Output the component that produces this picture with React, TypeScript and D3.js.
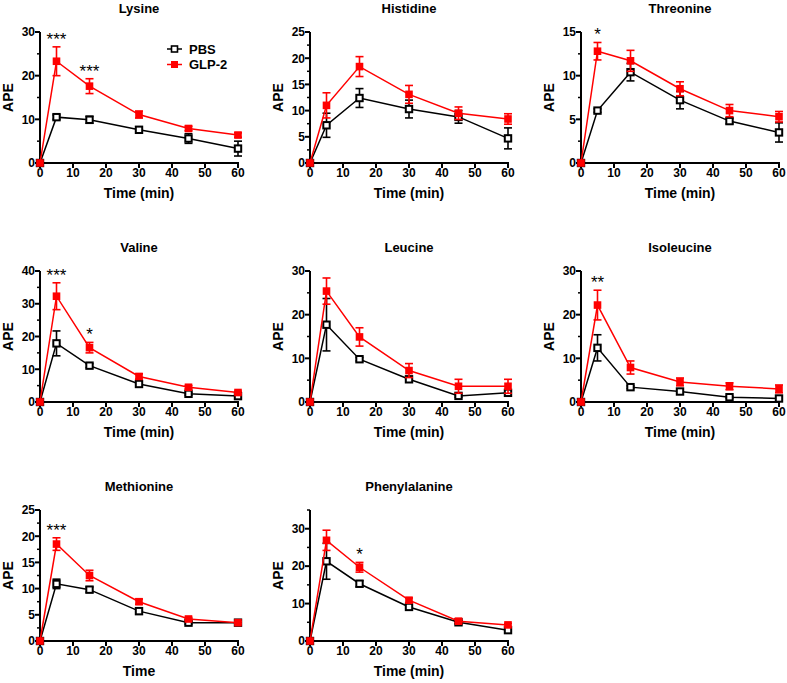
import * as d3 from "d3"

// sampling times (min)
const times = [0, 5, 15, 30, 45, 60]

// mean APE and SEM
const lysinePBS = [0, 10.5, 9.9, 7.6, 5.6, 3.3]
const lysinePBSErr = [0, 0.5, 0.8, 0.7, 1.1, 1.7]
const lysineGLP2 = [0, 23.3, 17.6, 11.1, 7.9, 6.4]
const lysineGLP2Err = [0, 3.3, 1.7, 0.8, 0.5, 0.5]

const histidinePBS = [0, 7.2, 12.4, 10.3, 8.8, 4.7]
const histidinePBSErr = [0, 2.3, 1.8, 1.7, 1.2, 2.0]
const histidineGLP2 = [0, 11.0, 18.4, 13.1, 9.5, 8.4]
const histidineGLP2Err = [0, 2.4, 1.9, 1.7, 1.2, 1.0]

const threoninePBS = [0, 6.0, 10.4, 7.2, 4.8, 3.5]
const threoninePBSErr = [0, 0.2, 1.0, 1.0, 0.3, 1.1]
const threonineGLP2 = [0, 12.8, 11.7, 8.5, 6.0, 5.3]
const threonineGLP2Err = [0, 1.0, 1.2, 0.8, 0.7, 0.6]

const valinePBS = [0, 17.9, 11.1, 5.5, 2.5, 1.8]
const valinePBSErr = [0, 3.8, 0.6, 0.5, 0.4, 0.3]
const valineGLP2 = [0, 32.3, 16.6, 7.8, 4.5, 2.9]
const valineGLP2Err = [0, 4.1, 1.6, 0.8, 0.5, 0.4]

const leucinePBS = [0, 17.7, 9.8, 5.2, 1.4, 2.1]
const leucinePBSErr = [0, 6.0, 0.4, 0.5, 0.3, 0.5]
const leucineGLP2 = [0, 25.4, 14.9, 7.2, 3.6, 3.6]
const leucineGLP2Err = [0, 3.0, 2.1, 1.6, 1.6, 1.6]

const isoleucinePBS = [0, 12.4, 3.4, 2.4, 1.1, 0.8]
const isoleucinePBSErr = [0, 3.0, 0.3, 0.3, 0.2, 0.2]
const isoleucineGLP2 = [0, 22.2, 7.9, 4.6, 3.6, 3.0]
const isoleucineGLP2Err = [0, 3.4, 1.5, 0.9, 0.8, 0.9]

const methioninePBS = [0, 10.9, 9.8, 5.7, 3.5, 3.5]
const methioninePBSErr = [0, 0.9, 0.5, 0.6, 0.3, 0.2]
const methionineGLP2 = [0, 18.5, 12.5, 7.5, 4.2, 3.5]
const methionineGLP2Err = [0, 1.2, 1.0, 0.5, 0.3, 0.2]

const phenylalaninePBS = [0, 21.3, 15.3, 9.1, 5.0, 2.9]
const phenylalaninePBSErr = [0, 4.8, 0.8, 0.6, 0.4, 0.7]
const phenylalanineGLP2 = [0, 26.9, 19.7, 10.9, 5.3, 4.3]
const phenylalanineGLP2Err = [0, 2.7, 1.3, 0.6, 0.4, 0.4]

// significance marks: [time, label]
const lysineStars: [number, string][] = [[5, "***"], [15, "***"]]
const threonineStars: [number, string][] = [[5, "*"]]
const valineStars: [number, string][] = [[5, "***"], [15, "*"]]
const isoleucineStars: [number, string][] = [[5, "**"]]
const methionineStars: [number, string][] = [[5, "***"]]
const phenylalanineStars: [number, string][] = [[15, "*"]]

const seriesNames = ["PBS", "GLP-2"]

const panels = [
  { title: "Lysine", yMax: 30, step: 10, xLabel: "Time (min)", pbs: lysinePBS, pbsErr: lysinePBSErr, glp: lysineGLP2, glpErr: lysineGLP2Err, stars: lysineStars, legend: true },
  { title: "Histidine", yMax: 25, step: 5, xLabel: "Time (min)", pbs: histidinePBS, pbsErr: histidinePBSErr, glp: histidineGLP2, glpErr: histidineGLP2Err, stars: [] },
  { title: "Threonine", yMax: 15, step: 5, xLabel: "Time (min)", pbs: threoninePBS, pbsErr: threoninePBSErr, glp: threonineGLP2, glpErr: threonineGLP2Err, stars: threonineStars },
  { title: "Valine", yMax: 40, step: 10, xLabel: "Time (min)", pbs: valinePBS, pbsErr: valinePBSErr, glp: valineGLP2, glpErr: valineGLP2Err, stars: valineStars },
  { title: "Leucine", yMax: 30, step: 10, xLabel: "Time (min)", pbs: leucinePBS, pbsErr: leucinePBSErr, glp: leucineGLP2, glpErr: leucineGLP2Err, stars: [] },
  { title: "Isoleucine", yMax: 30, step: 10, xLabel: "Time (min)", pbs: isoleucinePBS, pbsErr: isoleucinePBSErr, glp: isoleucineGLP2, glpErr: isoleucineGLP2Err, stars: isoleucineStars },
  { title: "Methionine", yMax: 25, step: 5, xLabel: "Time", pbs: methioninePBS, pbsErr: methioninePBSErr, glp: methionineGLP2, glpErr: methionineGLP2Err, stars: methionineStars },
  { title: "Phenylalanine", yMax: 35, step: 10, xLabel: "Time (min)", pbs: phenylalaninePBS, pbsErr: phenylalaninePBSErr, glp: phenylalanineGLP2, glpErr: phenylalanineGLP2Err, stars: phenylalanineStars },
]

const FONT = "Arial, 'Liberation Sans', Helvetica, sans-serif"
const RED = "#ff0000"
const colLefts = [40, 310, 581]
const rowTops = [32, 271, 510]
const plotW = 198
const plotH = 131

type PanelDef = (typeof panels)[number]

function Panel({ p, left, top }: { p: PanelDef; left: number; top: number }) {
  const x = d3.scaleLinear().domain([0, 60]).range([0, plotW])
  const y = d3.scaleLinear().domain([0, p.yMax]).range([plotH, 0])
  const majors = d3.range(0, p.yMax + 0.001, p.step).filter((v) => v <= p.yMax)
  const minors = d3.range(p.step / 2, p.yMax + 0.001, p.step)
  const line = d3
    .line<number>()
    .x((_, i) => x(times[i]))
    .y((d) => y(d))

  const errBars = (vals: number[], errs: number[], color: string) =>
    vals.map((v, i) =>
      errs[i] > 0 ? (
        <g key={i} stroke={color} strokeWidth={1.6}>
          <line x1={x(times[i])} x2={x(times[i])} y1={y(v - errs[i])} y2={y(v + errs[i])} />
          <line x1={x(times[i]) - 4} x2={x(times[i]) + 4} y1={y(v + errs[i])} y2={y(v + errs[i])} />
          <line x1={x(times[i]) - 4} x2={x(times[i]) + 4} y1={y(v - errs[i])} y2={y(v - errs[i])} />
        </g>
      ) : null
    )

  return (
    <g transform={`translate(${left},${top})`} fontFamily={FONT}>
      <text x={plotW / 2} y={-19} textAnchor="middle" fontSize={13} fontWeight="bold">
        {p.title}
      </text>
      {/* y axis */}
      <line x1={0} x2={0} y1={0} y2={plotH + 1} stroke="#000" strokeWidth={2} />
      {majors.map((v) => (
        <g key={v}>
          <line x1={-5} x2={0} y1={y(v)} y2={y(v)} stroke="#000" strokeWidth={2} />
          <text x={-5} y={y(v)} dy="0.36em" textAnchor="end" fontSize={12} fontWeight="bold">
            {v}
          </text>
        </g>
      ))}
      {minors.map((v) => (
        <line key={v} x1={-3} x2={0} y1={y(v)} y2={y(v)} stroke="#000" strokeWidth={1.5} />
      ))}
      <text
        transform={`translate(-27,${plotH / 2}) rotate(-90)`}
        textAnchor="middle"
        fontSize={14}
        fontWeight="bold"
      >
        APE
      </text>
      {/* x axis */}
      <line x1={-1} x2={plotW + 1} y1={plotH} y2={plotH} stroke="#000" strokeWidth={2} />
      {x.ticks(6).map((t) => (
        <g key={t}>
          <line x1={x(t)} x2={x(t)} y1={plotH} y2={plotH + 5} stroke="#000" strokeWidth={2} />
          <text x={x(t)} y={plotH + 14} textAnchor="middle" fontSize={12} fontWeight="bold">
            {t}
          </text>
        </g>
      ))}
      <text x={plotW / 2} y={plotH + 35} textAnchor="middle" fontSize={14} fontWeight="bold">
        {p.xLabel}
      </text>
      {/* PBS */}
      {errBars(p.pbs, p.pbsErr, "#000")}
      <path d={line(p.pbs) || ""} fill="none" stroke="#000" strokeWidth={1.5} />
      {p.pbs.map((v, i) => (
        <rect key={i} x={x(times[i]) - 3.2} y={y(v) - 3.2} width={6.4} height={6.4} fill="#fff" stroke="#000" strokeWidth={2} />
      ))}
      {/* GLP-2 */}
      {errBars(p.glp, p.glpErr, RED)}
      <path d={line(p.glp) || ""} fill="none" stroke={RED} strokeWidth={1.5} />
      {p.glp.map((v, i) => (
        <rect key={i} x={x(times[i]) - 3.8} y={y(v) - 3.8} width={7.6} height={7.6} fill={RED} />
      ))}
      {p.stars.map(([t, label]) => {
        const i = times.indexOf(t)
        return (
          <text key={t} x={x(t)} y={y(p.glp[i] + p.glpErr[i]) - 2} textAnchor="middle" fontSize={17}>
            {label}
          </text>
        )
      })}
      {p.legend && (
        <g transform={`translate(${127},${17})`}>
          {seriesNames.map((name, k) => (
            <g key={name} transform={`translate(0,${k * 15.5})`}>
              <line x1={0} x2={15} y1={0} y2={0} stroke={k === 0 ? "#000" : RED} strokeWidth={1.5} />
              {k === 0 ? (
                <rect x={4.5} y={-3} width={6} height={6} fill="#fff" stroke="#000" strokeWidth={1.6} />
              ) : (
                <rect x={4} y={-3.5} width={7} height={7} fill={RED} />
              )}
              <text x={22} y={0} dy="0.36em" fontSize={13} fontWeight="bold">
                {name}
              </text>
            </g>
          ))}
        </g>
      )}
    </g>
  )
}

export default function App() {
  return (
    <svg
      width={787}
      height={683}
      style={{ position: "absolute", left: 0, top: 0, background: "#fff" }}
    >
      {panels.map((p, i) => (
        <Panel key={p.title} p={p} left={colLefts[i % 3]} top={rowTops[Math.floor(i / 3)]} />
      ))}
    </svg>
  )
}
